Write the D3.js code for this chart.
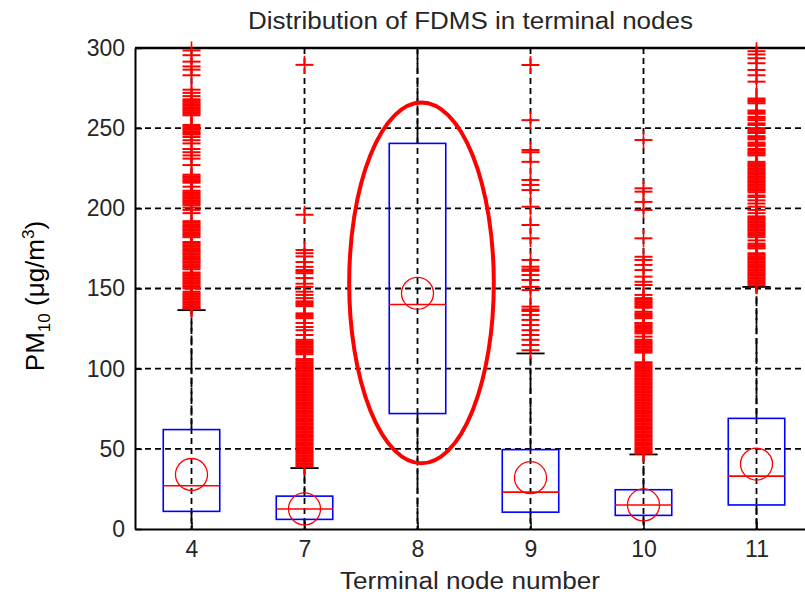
<!DOCTYPE html>
<html>
<head>
<meta charset="utf-8">
<script src="https://cdn.jsdelivr.net/npm/d3@7"></script>
<style>
  body { margin: 0; background: #fff; }
  svg { display: block; }
  .tick text { font-family: "Liberation Sans", Arial, sans-serif; font-size: 23px; fill: #262626; }
  .title, .xlabel { font-family: "Liberation Sans", Arial, sans-serif; font-size: 23px; fill: #262626; }
  .ylabel { font-family: "Liberation Sans", Arial, sans-serif; font-size: 26px; fill: #000; }
</style>
</head>
<body>
<svg id="chart" width="805" height="599"></svg>
<script>
// terminal nodes and box statistics (PM10, ug/m3)
const nodes = ["4", "7", "8", "9", "10", "11"];
const q1 = [11, 6, 72, 10.5, 8.5, 15];
const medians = [27, 12.5, 140, 23, 15, 33];
const q3 = [62, 20.5, 240.5, 49.5, 24.5, 69];
const means = [34, 12.5, 147, 32, 15, 40.5];
const whiskerLow = [0, 0, 0, 0, 0, 0];
const whiskerHigh = [136.5, 38, 300, 109.5, 46.5, 151];

// outliers, one list per node
const outliers4 = [137.5, 138, 139, 140, 141, 142, 143, 144, 145, 146, 147, 148,
  150, 151, 152, 153, 154, 155, 156, 157, 158, 159, 160,
  162, 163, 164, 165, 166, 167, 168, 169, 170, 171, 172, 173, 174, 175, 176, 177, 178, 179,
  182, 183, 184, 185, 186, 187, 188, 189, 190, 191, 192,
  197, 199, 200.5, 202, 203, 204, 205, 206, 207, 208, 209, 210, 211,
  213.5, 216, 217, 218, 219, 220, 221, 227, 231, 233, 235, 237, 240.5, 242.5, 244.5,
  246, 247, 248, 249, 250, 251, 252, 258, 259, 260, 261, 262, 263, 264, 265, 266,
  267, 268, 270, 272, 274, 283, 286.5, 288.5, 291.5, 295.5, 298.5];
const outliers7 = [39, 40, 41, 42, 43, 44, 45, 46, 47, 48, 49, 50, 51, 52, 53, 54, 55, 56, 57, 58,
  59, 60, 61, 62, 63, 64, 65, 66, 67, 68, 69, 70, 71, 72, 73, 74, 75, 76, 77, 78,
  79, 80, 81, 82, 83, 84, 85, 86, 87, 88, 89, 90, 91, 92, 93, 94, 95, 96, 97, 98,
  99, 100, 101, 102, 103, 104, 105, 106,
  109, 110, 111, 112, 113, 114, 115, 116, 117, 118, 121, 124, 126, 128.5,
  131.5, 132.5, 133.5, 134.5, 139, 140, 141, 142, 144, 146, 148, 151, 153, 156.5,
  159.5, 160.5, 161.5, 163.5, 166.5, 170, 172, 174, 196, 289.5];
const outliers9 = [111.5, 114.8, 118, 121, 124, 127.2, 130.4, 133.5, 136, 137, 138.7,
  149, 151, 155.3, 158.4, 161, 162, 163.6, 167.8, 181.3, 189.6, 201,
  211.4, 214.6, 217.7, 229, 235, 236.4, 255, 289.4];
const outliers10 = [47, 48, 49, 50, 51, 52, 53, 54, 55, 56, 57, 58, 59, 60, 61, 62, 63, 64, 65, 66,
  67, 68, 69, 70, 71, 72, 73, 74, 75, 76, 77, 78, 79, 80, 81, 82, 83, 84, 85, 86,
  87, 88, 89, 90, 91, 92, 93, 94, 95, 96, 97, 98, 99, 100, 101, 102, 103, 104,
  110, 111, 112, 113, 114, 115, 116, 117, 118, 120,
  122, 123, 124, 125, 126, 127, 128, 128.5, 131.5, 132.5, 133.5, 134.5, 135.5,
  138, 139, 140, 141, 142, 143, 144, 146, 152.2, 154.2, 157.4, 161.5, 164.7, 167.8, 169.8,
  181.3, 199, 204, 210.4, 212.5, 242.6];
const outliers11 = [152, 153, 154, 155, 156, 157, 158, 159, 160, 161, 162, 163, 164, 165, 166,
  167, 168, 169, 170, 171, 172, 175, 176, 177, 178, 180,
  182, 183, 184, 185, 186, 187, 188, 189, 190, 191, 192, 193, 194,
  195, 197, 199, 201, 203, 205, 207, 208, 210,
  211, 212, 213, 214, 215, 216, 217, 218, 219, 220, 221, 222, 223, 224, 225, 226, 227, 228, 229,
  233, 234, 235, 236, 237, 239, 240, 241, 243, 244, 245, 247, 248, 249, 250, 252, 253,
  255, 256, 257, 259, 260, 261, 265.5, 266.5, 267.5, 268.5,
  279, 283, 286.3, 290.5, 293.6, 296, 298];
const outliers8 = [];
const outlierLists = [outliers4, outliers7, outliers8, outliers9, outliers10, outliers11];

const yTicks = [0, 50, 100, 150, 200, 250, 300];

// highlighted node (red ellipse), in data units
const highlightNode = "8";
const highlightLow = 41;
const highlightHigh = 266;
const highlightHalfWidth = 0.64; // in steps between nodes

const titleText = "Distribution of FDMS in terminal nodes";
const xLabelText = "Terminal node number";

// ----- layout -----
const margin = { top: 48, left: 135 };
const plotW = 678, plotH = 481;

const svg = d3.select("#chart");
const g = svg.append("g").attr("transform", `translate(${margin.left},${margin.top})`);

const x = d3.scalePoint().domain(nodes).range([0, plotW]).padding(0.5);
const y = d3.scaleLinear().domain([0, 300]).range([plotH, 0]);
const step = x.step();
const boxHalf = step * 0.25;
const capHalf = step * 0.125;

const stats = nodes.map((n, i) => ({
  node: n, q1: q1[i], med: medians[i], q3: q3[i], mean: means[i],
  lo: whiskerLow[i], hi: whiskerHigh[i], out: outlierLists[i]
}));

// grid
g.append("g").selectAll("line").data(yTicks.filter(d => d > 0)).join("line")
  .attr("x1", 0).attr("x2", plotW)
  .attr("y1", d => y(d)).attr("y2", d => y(d))
  .attr("stroke", "#000").attr("stroke-width", 1.8).attr("stroke-dasharray", "6,4");
g.append("g").selectAll("line").data(nodes).join("line")
  .attr("x1", d => x(d)).attr("x2", d => x(d))
  .attr("y1", 0).attr("y2", plotH)
  .attr("stroke", "#000").attr("stroke-width", 1.8).attr("stroke-dasharray", "6,4");

// axes
const yAxis = g.append("g")
  .call(d3.axisLeft(y).tickValues(yTicks).tickSize(-7).tickSizeOuter(0).tickPadding(10));
const xAxis = g.append("g").attr("transform", `translate(0,${plotH})`)
  .call(d3.axisBottom(x).tickSize(-7).tickSizeOuter(0).tickPadding(12));
[yAxis, xAxis].forEach(a => {
  a.selectAll("path.domain").attr("stroke", "#000").attr("stroke-width", 2);
  a.selectAll(".tick line").attr("stroke", "#000").attr("stroke-width", 1.5);
});
// top and right border
g.append("line").attr("x1", 0).attr("x2", plotW).attr("y1", 0).attr("y2", 0)
  .attr("stroke", "#000").attr("stroke-width", 2.5);
g.append("line").attr("x1", plotW).attr("x2", plotW).attr("y1", 0).attr("y2", plotH)
  .attr("stroke", "#000").attr("stroke-width", 2);

// boxes
const box = g.append("g").selectAll("g").data(stats).join("g")
  .attr("transform", d => `translate(${x(d.node)},0)`);

box.append("line")
  .attr("y1", d => y(d.q3)).attr("y2", d => y(d.hi))
  .attr("stroke", "#000").attr("stroke-width", 1.8).attr("stroke-dasharray", "10,4");
box.append("line")
  .attr("y1", d => y(d.q1)).attr("y2", d => y(d.lo))
  .attr("stroke", "#000").attr("stroke-width", 1.8).attr("stroke-dasharray", "10,4");
box.append("line")
  .attr("x1", -capHalf).attr("x2", capHalf)
  .attr("y1", d => y(d.hi)).attr("y2", d => y(d.hi))
  .attr("stroke", "#000").attr("stroke-width", 1.8);

box.append("rect")
  .attr("x", -boxHalf).attr("width", boxHalf * 2)
  .attr("y", d => y(d.q3)).attr("height", d => y(d.q1) - y(d.q3))
  .attr("fill", "none").attr("stroke", "#0000ff").attr("stroke-width", 1.6);

box.append("line")
  .attr("x1", -boxHalf).attr("x2", boxHalf)
  .attr("y1", d => y(d.med)).attr("y2", d => y(d.med))
  .attr("stroke", "#ff0000").attr("stroke-width", 1.6);

// outliers as '+'
const plus = box.append("g").selectAll("g").data(d => d.out).join("g")
  .attr("transform", d => `translate(0,${y(d)})`);
plus.append("line").attr("x1", -9).attr("x2", 9)
  .attr("stroke", "#ff0000").attr("stroke-width", 2);
plus.append("line").attr("y1", -9).attr("y2", 9)
  .attr("stroke", "#ff0000").attr("stroke-width", 1.6);

// mean circles
box.append("circle")
  .attr("cy", d => y(d.mean)).attr("r", 16)
  .attr("fill", "none").attr("stroke", "#ff0000").attr("stroke-width", 1.3);

// highlight ellipse
g.append("ellipse")
  .attr("cx", x(highlightNode) + 4)
  .attr("cy", (y(highlightLow) + y(highlightHigh)) / 2)
  .attr("rx", step * highlightHalfWidth)
  .attr("ry", (y(highlightLow) - y(highlightHigh)) / 2)
  .attr("fill", "none").attr("stroke", "#ff0000").attr("stroke-width", 4);

// titles
svg.append("text").attr("class", "title")
  .attr("x", 470.5).attr("y", 29).attr("text-anchor", "middle")
  .attr("textLength", 445).attr("lengthAdjust", "spacingAndGlyphs")
  .text(titleText);
svg.append("text").attr("class", "xlabel")
  .attr("x", 470).attr("y", 589).attr("text-anchor", "middle")
  .attr("textLength", 260).attr("lengthAdjust", "spacingAndGlyphs")
  .text(xLabelText);

const yl = svg.append("text").attr("class", "ylabel")
  .attr("transform", "translate(44,296) rotate(-90)")
  .attr("text-anchor", "middle");
yl.append("tspan").text("PM");
yl.append("tspan").attr("font-size", 17).attr("dy", 6).text("10");
yl.append("tspan").attr("dy", -6).text(" (μg/m");
yl.append("tspan").attr("font-size", 17).attr("dy", -10).text("3");
yl.append("tspan").attr("dy", 10).text(")");
</script>
</body>
</html>
